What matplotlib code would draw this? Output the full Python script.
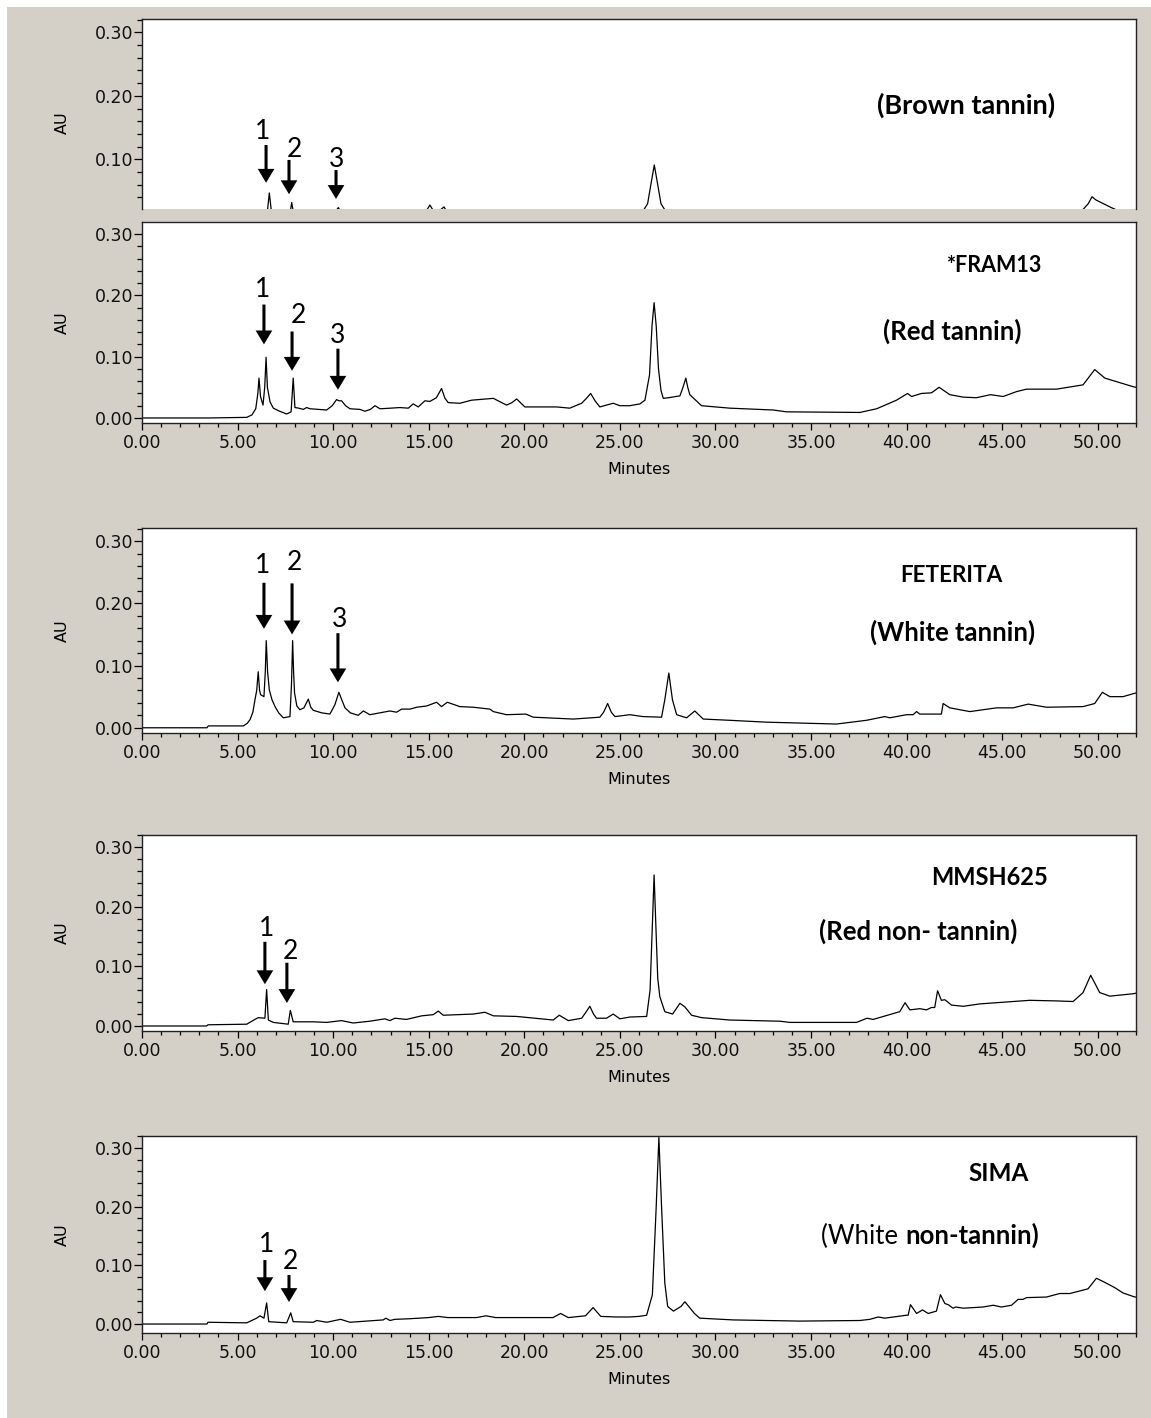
import matplotlib.pyplot as plt
from matplotlib.ticker import MultipleLocator, FormatStrFormatter
from matplotlib.patches import Rectangle

# retention time (min) / absorbance (AU) traces, one per sorghum sample
t_brown = [0.0, 6.3, 6.55, 6.66, 6.78, 7.6, 7.75, 7.83, 7.93, 10.0, 10.27, 10.5,
           14.8, 15.06, 15.3, 15.6, 15.8, 16.0, 26.2, 26.45, 26.62, 26.8, 26.98,
           27.15, 27.4, 49.2, 49.5, 49.7, 49.9, 50.3, 50.7, 51.0, 52.0]
au_brown = [0.0, 0.01, 0.015, 0.047, 0.015, 0.012, 0.015, 0.032, 0.015, 0.012, 0.024, 0.012,
            0.015, 0.028, 0.016, 0.02, 0.025, 0.015, 0.018, 0.03, 0.06, 0.091, 0.06,
            0.03, 0.018, 0.02, 0.03, 0.041, 0.036, 0.030, 0.024, 0.02, 0.02]

t_fram13 = [0.0, 3.5, 5.48, 5.75, 5.95, 6.06, 6.12, 6.2, 6.33, 6.42, 6.49, 6.56, 6.7, 6.87,
            7.2, 7.57, 7.8, 7.91, 8.0, 8.2, 8.44, 8.61, 8.8, 9.66, 9.95, 10.18, 10.3, 10.44,
            10.65, 10.88, 11.4, 11.66, 11.95, 12.19, 12.45, 13.0, 13.49, 13.93, 14.19, 14.45,
            14.8, 15.06, 15.4, 15.67, 15.85, 16.02, 16.63, 17.24, 18.38, 19.07, 19.35, 19.6,
            20.03, 21.69, 22.38, 23.0, 23.25, 23.47, 23.7, 23.95, 24.65, 25.0, 25.52, 26.05,
            26.31, 26.55, 26.68, 26.79, 26.9, 27.02, 27.15, 27.27, 27.53, 28.14, 28.3, 28.45,
            28.55, 28.66, 29.27, 30.75, 33.02, 33.72, 37.55, 38.43, 39.47, 40.05, 40.26,
            40.78, 41.3, 41.7, 42.26, 42.96, 43.65, 44.39, 45.05, 45.75, 46.27, 47.84, 49.23,
            49.5, 49.84, 50.37, 51.85, 52.0]
au_fram13 = [0.0, 0.0, 0.001, 0.005, 0.015, 0.04, 0.065, 0.035, 0.021, 0.05, 0.099, 0.05,
             0.026, 0.016, 0.011, 0.0065, 0.01, 0.065, 0.017, 0.016, 0.014, 0.017, 0.015,
             0.013, 0.02, 0.03, 0.028, 0.028, 0.02, 0.015, 0.014, 0.011, 0.014, 0.02, 0.015,
             0.016, 0.017, 0.016, 0.023, 0.018, 0.028, 0.027, 0.033, 0.048, 0.032, 0.025,
             0.024, 0.029, 0.032, 0.021, 0.025, 0.031, 0.018, 0.018, 0.016, 0.024, 0.032,
             0.04, 0.028, 0.018, 0.024, 0.02, 0.02, 0.023, 0.029, 0.07, 0.15, 0.188, 0.15,
             0.08, 0.045, 0.032, 0.033, 0.036, 0.05, 0.065, 0.05, 0.038, 0.02, 0.016, 0.013,
             0.01, 0.009, 0.015, 0.029, 0.04, 0.035, 0.04, 0.041, 0.05, 0.038, 0.034, 0.033,
             0.038, 0.035, 0.043, 0.047, 0.047, 0.054, 0.065, 0.079, 0.065, 0.051, 0.05]

t_feterita = [0.0, 3.4, 3.47, 5.3, 5.5, 5.65, 5.8, 5.91, 6.0, 6.08, 6.15, 6.21, 6.38, 6.45,
              6.5, 6.57, 6.66, 6.8, 6.96, 7.15, 7.39, 7.74, 7.82, 7.88, 7.93, 7.98, 8.1,
              8.26, 8.47, 8.7, 8.83, 8.96, 9.4, 9.83, 10.09, 10.3, 10.45, 10.62, 10.9, 11.31,
              11.58, 11.92, 12.97, 13.32, 13.58, 14.02, 14.37, 14.89, 15.41, 15.67, 15.97,
              16.63, 17.33, 18.2, 18.38, 19.07, 20.08, 20.47, 22.56, 23.95, 24.15, 24.36,
              24.55, 24.74, 25.52, 26.2, 27.18, 27.35, 27.56, 27.75, 27.97, 28.49, 28.92,
              29.36, 30.75, 32.67, 36.33, 37.9, 38.86, 39.12, 39.99, 40.34, 40.52, 40.69,
              41.82, 41.91, 42.26, 43.31, 44.7, 45.57, 46.36, 47.32, 49.23, 49.84, 50.24,
              50.63, 51.32, 52.0]
au_feterita = [0.0, 0.0, 0.003, 0.003, 0.007, 0.013, 0.025, 0.045, 0.06, 0.09, 0.06, 0.053,
               0.05, 0.09, 0.14, 0.09, 0.061, 0.045, 0.034, 0.024, 0.016, 0.018, 0.07, 0.14,
               0.09, 0.056, 0.035, 0.029, 0.032, 0.046, 0.033, 0.028, 0.024, 0.022, 0.037,
               0.057, 0.045, 0.032, 0.024, 0.02, 0.027, 0.021, 0.027, 0.025, 0.03, 0.03,
               0.033, 0.035, 0.041, 0.034, 0.041, 0.034, 0.033, 0.03, 0.026, 0.021, 0.022,
               0.017, 0.014, 0.017, 0.025, 0.039, 0.025, 0.018, 0.021, 0.018, 0.017, 0.045,
               0.088, 0.045, 0.021, 0.016, 0.027, 0.014, 0.012, 0.009, 0.006, 0.012, 0.018,
               0.016, 0.021, 0.021, 0.026, 0.022, 0.022, 0.039, 0.032, 0.026, 0.032, 0.032,
               0.038, 0.033, 0.034, 0.039, 0.057, 0.05, 0.05, 0.056]

t_mmsh625 = [0.0, 3.38, 3.45, 5.48, 5.91, 6.08, 6.43, 6.52, 6.61, 6.87, 7.65, 7.76, 7.91,
             8.96, 9.66, 10.44, 11.05, 11.92, 12.71, 12.97, 13.23, 13.84, 14.63, 15.24, 15.5,
             15.76, 17.33, 17.94, 18.38, 19.6, 21.51, 21.83, 22.3, 23.0, 23.2, 23.43, 23.62,
             23.78, 24.3, 24.65, 25.0, 25.52, 26.4, 26.58, 26.7, 26.79, 26.88, 26.98, 27.09,
             27.35, 27.76, 28.14, 28.4, 28.75, 29.27, 30.75, 33.37, 33.89, 37.38, 37.93,
             38.25, 39.64, 39.92, 40.17, 40.69, 41.04, 41.3, 41.47, 41.62, 41.82, 42.0, 42.35,
             42.96, 43.83, 45.57, 46.44, 47.84, 48.71, 49.23, 49.63, 50.1, 50.63, 51.85, 52.0]
au_mmsh625 = [0.0, 0.0, 0.002, 0.003, 0.011, 0.014, 0.013, 0.061, 0.01, 0.006, 0.003, 0.026,
              0.007, 0.007, 0.006, 0.009, 0.005, 0.008, 0.012, 0.009, 0.013, 0.011, 0.017,
              0.019, 0.025, 0.018, 0.02, 0.023, 0.017, 0.016, 0.01, 0.018, 0.009, 0.013,
              0.022, 0.033, 0.02, 0.013, 0.013, 0.02, 0.012, 0.015, 0.016, 0.06, 0.17, 0.253,
              0.17, 0.08, 0.049, 0.024, 0.02, 0.038, 0.032, 0.018, 0.014, 0.01, 0.008, 0.006,
              0.006, 0.013, 0.011, 0.024, 0.039, 0.027, 0.029, 0.027, 0.031, 0.031, 0.059,
              0.043, 0.044, 0.035, 0.033, 0.037, 0.041, 0.043, 0.042, 0.041, 0.056, 0.085,
              0.056, 0.05, 0.054, 0.055]

t_sima = [0.0, 3.4, 3.45, 5.48, 6.0, 6.17, 6.38, 6.52, 6.63, 7.57, 7.78, 7.91, 8.96, 9.14,
          9.66, 10.39, 10.88, 12.62, 12.76, 12.97, 13.23, 14.0, 15.0, 15.5, 16.0, 17.5, 18.0,
          18.5, 20.0, 21.5, 21.9, 22.3, 23.2, 23.6, 24.0, 24.8, 25.5, 26.0, 26.4, 26.7, 26.9,
          27.04, 27.18, 27.35, 27.5, 27.8, 28.2, 28.4, 28.6, 28.9, 29.18, 30.93, 34.41,
          37.55, 38.08, 38.51, 38.86, 39.99, 40.08, 40.2, 40.52, 40.83, 41.13, 41.56, 41.77,
          42.0, 42.17, 42.43, 42.57, 42.96, 44.0, 44.53, 44.96, 45.49, 45.83, 46.09, 46.27,
          47.32, 48.01, 48.54, 49.49, 49.93, 50.37, 50.89, 51.32, 51.94, 52.0]
au_sima = [0.0, 0.0, 0.003, 0.002, 0.01, 0.014, 0.01, 0.036, 0.004, 0.002, 0.019, 0.004,
           0.003, 0.006, 0.003, 0.008, 0.003, 0.007, 0.01, 0.006, 0.008, 0.009, 0.011, 0.013,
           0.011, 0.011, 0.014, 0.011, 0.011, 0.011, 0.018, 0.011, 0.014, 0.028, 0.013,
           0.012, 0.012, 0.013, 0.015, 0.05, 0.2, 0.318, 0.2, 0.07, 0.03, 0.022, 0.03, 0.038,
           0.03, 0.018, 0.01, 0.007, 0.005, 0.006, 0.008, 0.012, 0.01, 0.015, 0.015, 0.033,
           0.018, 0.024, 0.018, 0.022, 0.05, 0.035, 0.033, 0.027, 0.029, 0.027, 0.029, 0.032,
           0.029, 0.032, 0.042, 0.042, 0.045, 0.046, 0.052, 0.052, 0.06, 0.078, 0.071, 0.062,
           0.053, 0.046, 0.046]

# peak markers: label, retention time, arrow tail, arrow tip (AU)
marks_brown = [("1", 6.49, 0.1225, 0.063), ("2", 7.69, 0.099, 0.045), ("3", 10.15, 0.083, 0.0375)]
marks_fram13 = [("1", 6.38, 0.185, 0.12), ("2", 7.85, 0.141, 0.077), ("3", 10.25, 0.113, 0.046)]
marks_feterita = [("1", 6.38, 0.233, 0.159), ("2", 7.85, 0.232, 0.15), ("3", 10.25, 0.152, 0.073)]
marks_mmsh625 = [("1", 6.43, 0.141, 0.07), ("2", 7.58, 0.106, 0.0385)]
marks_sima = [("1", 6.43, 0.109, 0.056), ("2", 7.69, 0.0835, 0.0375)]

W, H = 1151, 1418
BG = "#d4d0c8"
TICK_FONT = "DejaVu Sans"
NOTE_FONT = "Lato"

fig = plt.figure(figsize=(W / 100, H / 100), dpi=100, facecolor=BG)
# thin white border along the top and left edges
fig.patches.append(Rectangle((0, 1 - 7 / H), 1, 7 / H, transform=fig.transFigure,
                             facecolor="white", edgecolor="none", zorder=-1))
fig.patches.append(Rectangle((0, 0), 7 / W, 1, transform=fig.transFigure,
                             facecolor="white", edgecolor="none", zorder=-1))


def panel(top, bottom, ylim, t, au, marks, num_offsets, show_x=True, au_label_y=0.5):
    left, right = 142, 1136
    ax = fig.add_axes([left / W, 1 - bottom / H, (right - left) / W, (bottom - top) / H])
    ax.set_facecolor("white")
    ax.plot(t, au, color="black", lw=0.9)
    ax.set_xlim(0, 52)
    ax.set_ylim(*ylim)

    ax.yaxis.set_major_locator(MultipleLocator(0.1))
    ax.yaxis.set_minor_locator(MultipleLocator(0.02))
    ax.yaxis.set_major_formatter(FormatStrFormatter("%.2f"))
    ax.xaxis.set_major_locator(MultipleLocator(5))
    ax.xaxis.set_minor_locator(MultipleLocator(1))
    ax.xaxis.set_major_formatter(FormatStrFormatter("%.2f"))
    ax.tick_params(axis="y", which="major", direction="out", length=6, width=0.9, pad=0.5,
                   labelsize=12.5, labelcolor="#111111")
    ax.tick_params(axis="y", which="minor", direction="out", length=3.5, width=0.9)
    ax.tick_params(axis="x", which="major", direction="out", length=5, width=0.9, pad=3,
                   labelsize=12.5, labelcolor="#111111")
    ax.tick_params(axis="x", which="minor", direction="out", length=3, width=0.9)
    for lab in ax.get_xticklabels() + ax.get_yticklabels():
        lab.set_family(TICK_FONT)
    for s in ax.spines.values():
        s.set_linewidth(1.0)
        s.set_color("#222222")

    ax.set_ylabel("AU", family=TICK_FONT, fontsize=11.5)
    ax.yaxis.set_label_coords(-0.0725, au_label_y)
    if show_x:
        ax.set_xlabel("Minutes", family=TICK_FONT, fontsize=11.5, labelpad=7)
    else:
        ax.spines["bottom"].set_visible(False)
        ax.tick_params(axis="x", which="both", bottom=False, labelbottom=False)

    for (num, tx, tail, tip), (dx, dy) in zip(marks, num_offsets):
        ax.annotate("", xy=(tx, tip), xytext=(tx, tail),
                    arrowprops=dict(facecolor="black", edgecolor="black", lw=0,
                                    width=2.2, headwidth=12, headlength=10, shrink=0))
        ax.text(tx + dx, tail + dy, num, ha="center", va="center", family=NOTE_FONT,
                fontsize=19)
    return ax


def note(ax, x, y, s, size=18.5):
    ax.text(x, y, s, ha="center", va="center", family=NOTE_FONT, fontweight="bold",
            fontsize=size)


ax1 = panel(19, 209, (0.0217, 0.321), t_brown, au_brown, marks_brown,
            [(-0.16, 0.022), (0.31, 0.016), (0.05, 0.016)], show_x=False, au_label_y=0.4526)
note(ax1, 43.1, 0.185, "(Brown tannin)", 19.5)

ax2 = panel(222, 423, (-0.0082, 0.3196), t_fram13, au_fram13, marks_fram13,
            [(-0.05, 0.024), (0.36, 0.026), (0.0, 0.021)])
note(ax2, 44.6, 0.248, "*FRAM13", 15.5)
note(ax2, 42.4, 0.142, "(Red tannin)")

ax3 = panel(528, 733, (-0.0084, 0.321), t_feterita, au_feterita, marks_feterita,
            [(-0.05, 0.027), (0.1, 0.033), (0.11, 0.022)])
note(ax3, 42.36, 0.245, "FETERITA", 16.2)
note(ax3, 42.42, 0.154, "(White tannin)")

ax4 = panel(835, 1031, (-0.0084, 0.320), t_mmsh625, au_mmsh625, marks_mmsh625,
            [(0.06, 0.023), (0.16, 0.018)])
note(ax4, 44.35, 0.248, "MMSH625", 17)
note(ax4, 40.59, 0.158, "(Red non- tannin)")

ax5 = panel(1136, 1333, (-0.0153, 0.3205), t_sima, au_sima, marks_sima,
            [(0.06, 0.026), (0.1, 0.0235)])
note(ax5, 44.82, 0.257, "SIMA", 17.5)
# mixed weight caption, both parts share one baseline
ax5.text(39.9, 0.136, "(White ", ha="right", va="baseline", family=NOTE_FONT, fontsize=18.5)
ax5.text(39.95, 0.136, "non-tannin)", ha="left", va="baseline", family=NOTE_FONT,
         fontweight="bold", fontsize=18.5)

fig.savefig("out.png", dpi=100, facecolor=BG)
